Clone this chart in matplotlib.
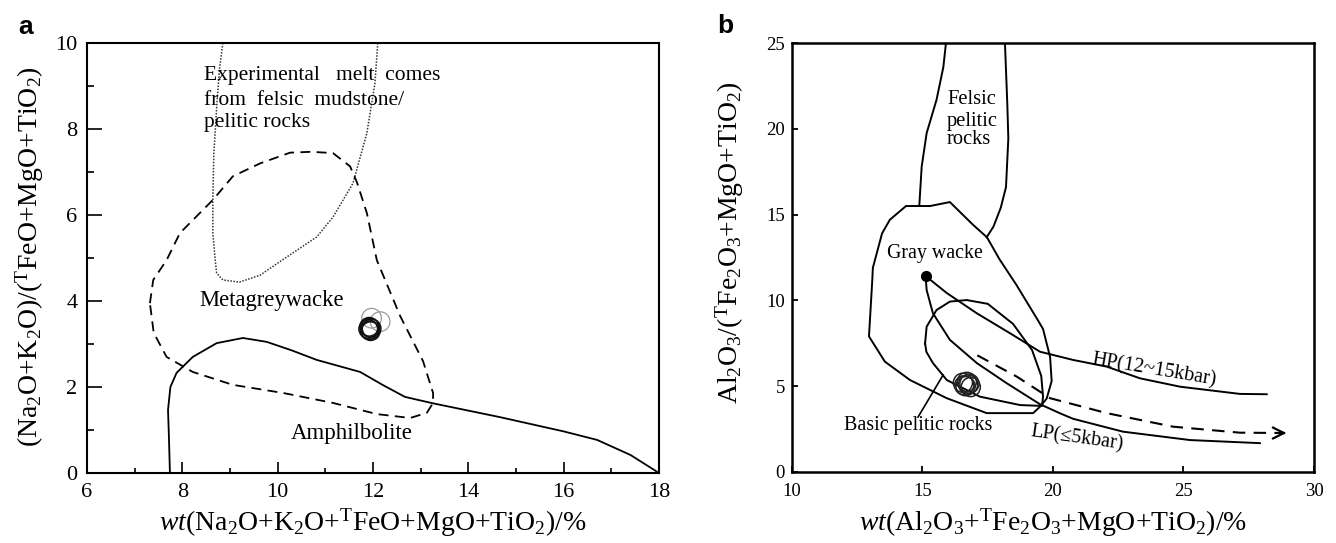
import matplotlib
matplotlib.use('Agg')
import matplotlib.pyplot as plt

plt.rcParams['font.family'] = ['Liberation Serif', 'DejaVu Serif']
plt.rcParams['mathtext.fontset'] = 'custom'
plt.rcParams['mathtext.rm'] = 'Liberation Serif'
plt.rcParams['mathtext.it'] = 'Liberation Serif:italic'

# ---- panel a: field boundaries ----
melt_x = [8.85, 8.78, 8.73, 8.66, 8.64, 8.64, 8.69, 8.72, 8.85, 9.2, 9.63, 10.12, 10.82, 11.16, 11.58, 11.87, 12.04, 12.1]
melt_y = [10.0, 9.4, 8.67, 7.4, 6.35, 5.58, 4.95, 4.65, 4.49, 4.44, 4.6, 4.97, 5.49, 5.95, 6.74, 7.9, 9.06, 10.0]

mgw_x = [7.32, 7.39, 7.67, 7.95, 8.64, 9.06, 9.63, 10.26, 10.7, 11.16, 11.52, 11.66, 11.87, 12.08, 12.57, 13.05, 13.26, 13.26, 13.13, 12.78, 12.08, 11.16, 10.12, 9.06, 8.22, 7.67, 7.4, 7.32]
mgw_y = [3.95, 4.49, 4.95, 5.58, 6.35, 6.9, 7.2, 7.45, 7.47, 7.44, 7.13, 6.77, 6.05, 4.95, 3.65, 2.6, 1.86, 1.63, 1.4, 1.28, 1.37, 1.63, 1.86, 2.05, 2.35, 2.7, 3.26, 3.95]

amp_x = [7.74, 7.72, 7.7, 7.75, 7.88, 8.22, 8.72, 9.27, 9.77, 10.3, 10.82, 11.73, 12.2, 12.67, 13.26, 14.66, 15.99, 16.7, 17.4, 18.0]
amp_y = [0.0, 0.8, 1.47, 2.0, 2.33, 2.7, 3.02, 3.14, 3.05, 2.85, 2.63, 2.35, 2.05, 1.77, 1.62, 1.3, 0.97, 0.77, 0.42, 0.0]

# samples, panel a
a_dark_x = [11.90, 11.95, 11.92, 11.97, 11.93, 11.94]
a_dark_y = [3.35, 3.30, 3.40, 3.36, 3.32, 3.38]
a_gray_x = [11.97, 12.15]
a_gray_y = [3.60, 3.52]

# ---- panel b ----
fel_l_x = [15.9, 15.8, 15.54, 15.16, 14.97, 14.88]
fel_l_y = [25.0, 23.6, 21.7, 19.75, 17.8, 15.56]
fel_r_x = [18.16, 18.25, 18.29, 18.2, 18.0, 17.72, 17.46]
fel_r_y = [25.0, 21.46, 19.44, 16.6, 15.4, 14.3, 13.68]

gw_x = [15.29, 16.05, 16.94, 17.47, 17.95, 18.6, 19.4, 19.62, 19.89, 19.95, 19.76, 19.5, 19.24, 17.46, 15.93, 14.52, 13.56, 12.95, 13.07, 13.1, 13.45, 13.75, 14.37, 15.29]
gw_y = [15.5, 15.73, 14.4, 13.68, 12.4, 10.9, 8.9, 8.33, 6.7, 5.3, 4.28, 3.8, 3.43, 3.43, 4.3, 5.36, 6.43, 7.9, 11.0, 11.9, 13.9, 14.7, 15.5, 15.5]

bp_x = [15.1, 15.16, 15.54, 16.05, 16.69, 17.5, 18.47, 19.2, 19.55, 19.62, 19.58, 18.74, 17.2, 15.93, 15.4, 15.15, 15.1]
bp_y = [7.5, 8.47, 9.44, 9.93, 10.02, 9.8, 8.63, 7.1, 5.6, 4.4, 3.85, 3.9, 4.39, 5.36, 6.35, 7.0, 7.5]

gw_dot = (15.12, 11.42)
hp_x = [15.12, 15.93, 17.08, 18.35, 19.5, 20.77, 22.06, 23.33, 24.87, 27.16, 28.19]
hp_y = [11.42, 10.43, 9.25, 8.09, 7.01, 6.53, 6.14, 5.46, 4.97, 4.55, 4.53]
lp_x = [15.12, 15.16, 15.4, 16.05, 17.08, 18.22, 19.5, 20.3, 20.77, 22.68, 25.25, 27.93]
lp_y = [11.42, 10.6, 9.25, 7.7, 6.35, 5.18, 3.95, 3.4, 3.1, 2.35, 1.86, 1.68]
trend_x = [17.1, 18.61, 19.89, 22.06, 24.6, 27.16, 28.9]
trend_y = [6.8, 5.56, 4.3, 3.43, 2.64, 2.29, 2.27]

b_samp_x = [16.55, 16.65, 16.75, 16.85, 16.7, 16.8, 16.6]
b_samp_y = [5.2, 5.0, 5.1, 4.95, 5.25, 5.15, 5.05]

fig = plt.figure(figsize=(13.36, 5.43), dpi=100)
ax1 = fig.add_axes([0.0651, 0.1289, 0.4282, 0.7919])
ax2 = fig.add_axes([0.5928, 0.1308, 0.3907, 0.79])

# ---------------- panel a ----------------
ax1.plot(melt_x, melt_y, color='#333333', lw=1.1, linestyle=(0, (1, 1)))
ax1.plot(mgw_x, mgw_y, color='black', lw=1.3, linestyle=(0, (5.5, 3.5)))
ax1.plot(amp_x, amp_y, color='black', lw=1.3)
ax1.scatter(a_gray_x, a_gray_y, s=200, facecolors='none', edgecolors='#9a9a9a', linewidths=0.9, zorder=3)
ax1.scatter(a_dark_x, a_dark_y, s=180, facecolors='none', edgecolors='#111111', linewidths=1.1, zorder=4)

ax1.text(8.45, 9.25, 'Experimental   melt  comes', fontsize=15.5, va='center', ha='left')
ax1.text(8.45, 8.67, 'from  felsic  mudstone/', fontsize=15.5, va='center', ha='left')
ax1.text(8.45, 8.16, 'pelitic rocks', fontsize=15.5, va='center', ha='left')
ax1.text(9.88, 4.02, 'Metagreywacke', fontsize=16.3, va='center', ha='center')
ax1.text(11.56, 0.93, 'Amphilbolite', fontsize=16.5, va='center', ha='center')

ax1.set_xlim(6, 18)
ax1.set_ylim(0, 10)
ax1.set_xticks([6, 8, 10, 12, 14, 16, 18])
ax1.set_xticks([7, 9, 11, 13, 15, 17], minor=True)
ax1.set_yticks([0, 2, 4, 6, 8, 10])
ax1.set_yticks([1, 3, 5, 7, 9], minor=True)
ax1.tick_params(axis='x', which='major', direction='in', length=8, width=1.2, labelsize=16, pad=7)
ax1.tick_params(axis='x', which='minor', direction='in', length=3.5, width=1.2)
ax1.tick_params(axis='y', which='major', direction='in', length=11, width=1.2, labelsize=16, pad=7)
ax1.tick_params(axis='y', which='minor', direction='in', length=5, width=1.2)
for sp in ax1.spines.values():
    sp.set_linewidth(1.5)

# ---------------- panel b ----------------
ax2.plot(fel_l_x, fel_l_y, color='black', lw=1.4)
ax2.plot(fel_r_x, fel_r_y, color='black', lw=1.4)
ax2.plot(gw_x, gw_y, color='black', lw=1.4)
ax2.plot(bp_x, bp_y, color='black', lw=1.4)
ax2.plot(hp_x, hp_y, color='black', lw=1.4)
ax2.plot(lp_x, lp_y, color='black', lw=1.4)
ax2.plot(trend_x, trend_y, color='black', lw=1.5, linestyle=(0, (6, 4)))
ax2.annotate('', xy=(trend_x[-1] + 0.15, trend_y[-1]), xytext=(trend_x[-1] - 0.3, trend_y[-1]),
             arrowprops=dict(arrowstyle='->', lw=1.6, color='black', mutation_scale=20))
ax2.plot([gw_dot[0]], [gw_dot[1]], 'o', color='black', markersize=7)
ax2.scatter(b_samp_x, b_samp_y, s=190, facecolors='none', edgecolors='#222222', linewidths=1.1, zorder=4)
ax2.plot([14.83, 15.79], [3.2, 5.65], color='black', lw=1.2)

ax2.text(15.94, 21.7, 'Felsic', fontsize=14.8, va='center', ha='left')
ax2.text(15.94, 20.45, 'pelitic', fontsize=14.8, va='center', ha='left')
ax2.text(15.94, 19.35, 'rocks', fontsize=14.8, va='center', ha='left')
ax2.text(15.46, 12.76, 'Gray wacke', fontsize=14.3, va='center', ha='center')
ax2.text(14.83, 2.7, 'Basic pelitic rocks', fontsize=14.5, va='center', ha='center')
ax2.text(23.87, 5.94, 'HP(12~15kbar)', fontsize=14.5, va='center', ha='center', rotation=-9.5)
ax2.text(20.92, 1.96, 'LP(≤5kbar)', fontsize=14.5, va='center', ha='center', rotation=-8)

ax2.set_xlim(10, 30)
ax2.set_ylim(0, 25)
ax2.set_xticks([10, 15, 20, 25, 30])
ax2.set_yticks([0, 5, 10, 15, 20, 25])
ax2.tick_params(axis='both', direction='in', length=4, width=1.3, labelsize=13.5)
ax2.tick_params(axis='x', pad=8)
ax2.tick_params(axis='y', pad=5)
for sp in ax2.spines.values():
    sp.set_linewidth(1.8)

# ---------------- labels ----------------
fig.text(0.279, 0.022, r'$\mathit{wt}$(Na$_2$O+K$_2$O+$^{\mathrm{T}}$FeO+MgO+TiO$_2$)/%',
         fontsize=20, ha='center', va='baseline')
fig.text(0.0225, 0.527, r'(Na$_2$O+K$_2$O)/($^{\mathrm{T}}$FeO+MgO+TiO$_2$)',
         fontsize=20, ha='center', va='center', rotation=90)
fig.text(0.788, 0.022, r'$\mathit{wt}$(Al$_2$O$_3$+$^{\mathrm{T}}$Fe$_2$O$_3$+MgO+TiO$_2$)/%',
         fontsize=20, ha='center', va='baseline')
fig.text(0.546, 0.554, r'Al$_2$O$_3$/($^{\mathrm{T}}$Fe$_2$O$_3$+MgO+TiO$_2$)',
         fontsize=20, ha='center', va='center', rotation=90)

fig.text(0.019, 0.95, 'a', fontsize=19, fontweight='bold', family='Liberation Sans', ha='center', va='center')
fig.text(0.543, 0.952, 'b', fontsize=19, fontweight='bold', family='Liberation Sans', ha='center', va='center')

fig.savefig('out.png', dpi=100)
